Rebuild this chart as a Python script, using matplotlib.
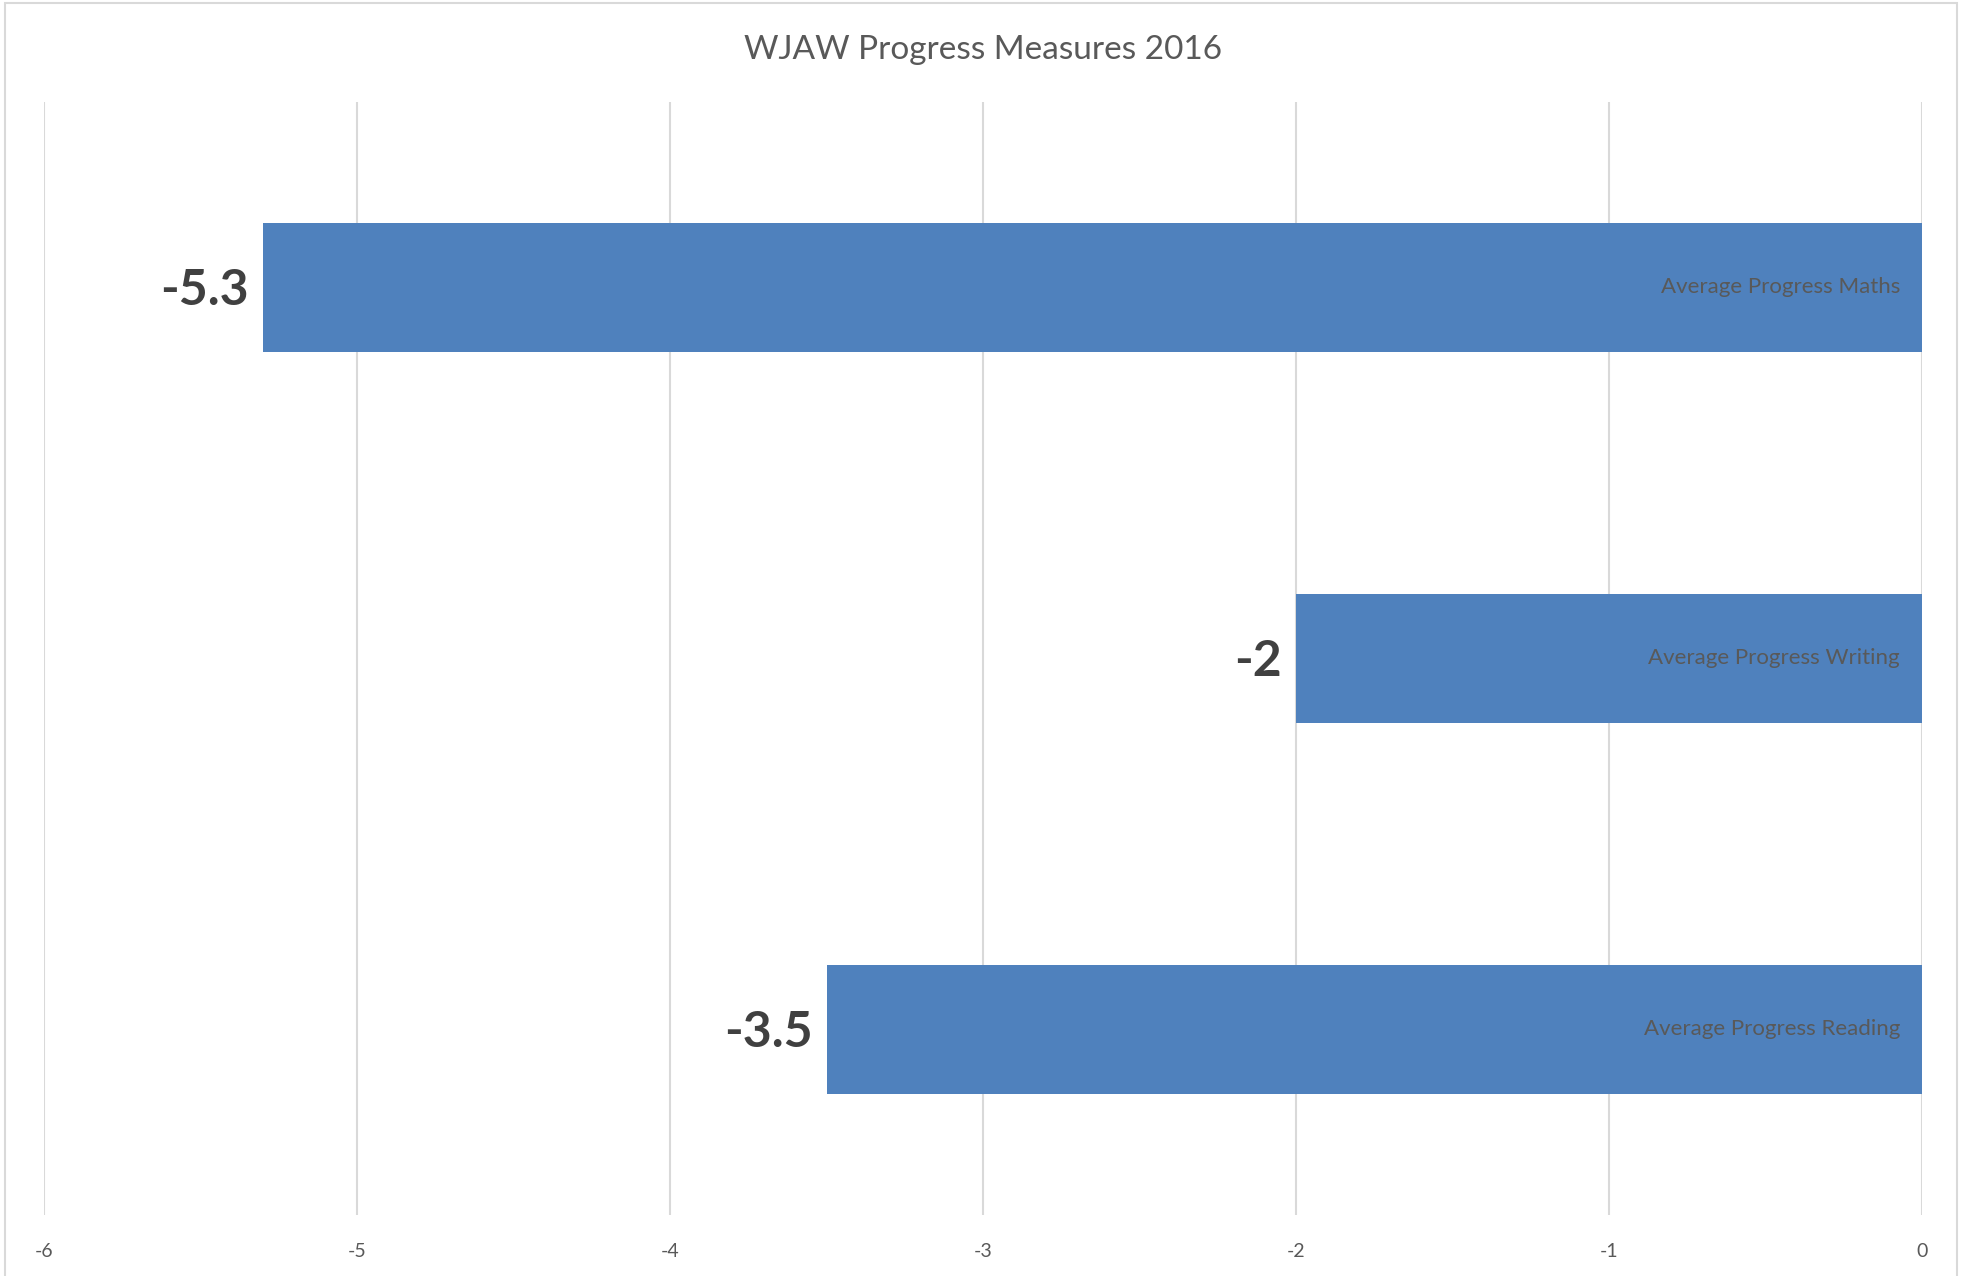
import matplotlib
matplotlib.use("Agg")
import matplotlib.pyplot as plt
from matplotlib.patches import Rectangle

# data
categories = ["Average Progress Maths", "Average Progress Writing", "Average Progress Reading"]
values = [-5.3, -2, -3.5]
value_labels = ["-5.3", "-2", "-3.5"]
x_ticks = [-6, -5, -4, -3, -2, -1, 0]

BAR = "#4F81BD"
GRID = "#D9D9D9"
TEXT = "#595959"
LABEL = "#404040"

plt.rcParams["font.family"] = ["Lato", "DejaVu Sans"]

fig = plt.figure(figsize=(19.75, 12.76), dpi=100)
ax = fig.add_axes([0.0223, 0.0478, 0.9509, 0.8723])

# chart area border like the Excel frame
fig.patches.append(Rectangle((5 / 1975, -0.01), 1952 / 1975, 1.0 - 3 / 1276 + 0.01,
                             transform=fig.transFigure, fill=False,
                             edgecolor=GRID, linewidth=1.5))

ypos = list(range(len(categories)))
ax.barh(ypos, values, height=0.35, color=BAR, zorder=3)

ax.set_xlim(x_ticks[0], x_ticks[-1])
ax.set_ylim(len(categories) - 0.5, -0.5)
ax.set_xticks(x_ticks)
ax.set_xticklabels([str(t) for t in x_ticks], fontsize=14, color=TEXT)
ax.set_yticks([])
ax.tick_params(axis="x", length=0, pad=20)
ax.grid(axis="x", color=GRID, linewidth=1.5, zorder=0)
for s in ax.spines.values():
    s.set_visible(False)

for y, v, lab, cat in zip(ypos, values, value_labels, categories):
    ax.annotate(lab, (v, y), xytext=(-14, -3), textcoords="offset pixels",
                ha="right", va="center", fontsize=36, fontweight="bold",
                color=LABEL)
    ax.annotate(cat, (0, y), xytext=(-22, 0), textcoords="offset pixels",
                ha="right", va="center", fontsize=16, color=TEXT)

fig.text(0.498, 0.961, "WJAW Progress Measures 2016", ha="center", va="center",
         fontsize=24, color=TEXT)

fig.savefig("out.png", dpi=100)
